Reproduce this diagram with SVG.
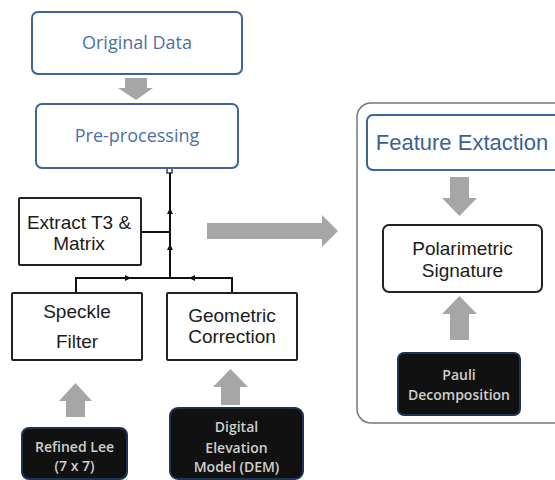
<svg xmlns="http://www.w3.org/2000/svg" width="555" height="480" viewBox="0 0 555 480">
<style>
.blue{fill:#fff;stroke:#3d649c;stroke-width:2}
.plain{fill:#fff;stroke:#222;stroke-width:2}
.dark{fill:#111;stroke:#1e3450;stroke-width:2}
.gray{fill:#a6a6a6}
.tb{font-family:"Open Sans","Liberation Sans",sans-serif;fill:#4d6fa3;text-anchor:middle;font-size:18px}
.ta{font-family:"Liberation Sans",Arial,sans-serif;fill:#1a1a1a;text-anchor:middle;font-size:19px}
.tw{font-family:"Open Sans","Liberation Sans",sans-serif;fill:#cfcfcf;text-anchor:middle;font-size:14px;font-weight:600}
.ln{stroke:#111;stroke-width:2;fill:none}
</style>
<rect width="555" height="480" fill="#fff"/>
<g id="container"><rect x="357" y="103" width="215" height="320" rx="14" fill="none" stroke="#777" stroke-width="1.5"/></g>
<g id="connectors">
<polygon class="gray" points="125,78 147,78 147,88 153,88 136,100 118,88 125,88"/>
<polygon class="gray" points="207,223 322,223 322,215 338,231 322,247 322,239 207,239"/>
<polygon class="gray" points="66,417 85,417 85,401 92,401 75.5,383 59,401 66,401"/>
<polygon class="gray" points="221,405 240,405 240,387 248,387 230.5,369 213,387 221,387"/>
<polygon class="gray" points="450,177 469,177 469,198 477,198 459.5,216 442,198 450,198"/>
<polygon class="gray" points="450,340 469,340 469,314 477,314 459.5,296 442,314 450,314"/>
<rect x="167" y="168" width="5" height="5" fill="#fff" stroke="#111" stroke-width="1.2"/>
<path class="ln" d="M170,173 V278 M141,232 H170 M76,293 V278 H232 V293"/>
<polygon points="170,208 167,214 173,214" fill="#111"/>
<polygon points="170,244 167,250 173,250" fill="#111"/>
<polygon points="131,278 125,275 125,281" fill="#111"/>
<polygon points="189,278 195,275 195,281" fill="#111"/>
</g>
<g id="original-data"><rect class="blue" x="32" y="12" width="210" height="62" rx="6"/><text class="tb" x="137" y="49">Original Data</text></g>
<g id="pre-processing"><rect class="blue" x="36" y="104" width="202" height="64" rx="6"/><text class="tb" x="137" y="142">Pre-processing</text></g>
<g id="extract"><rect class="plain" x="19" y="198" width="122" height="67" rx="1"/><text class="ta" x="79" y="229">Extract T3 &amp;</text><text class="ta" x="79" y="250">Matrix</text></g>
<g id="speckle"><rect class="plain" x="12" y="293" width="130" height="67" rx="1"/><text class="ta" x="77" y="318">Speckle</text><text class="ta" x="77" y="348">Filter</text></g>
<g id="geometric"><rect class="plain" x="167" y="293" width="130" height="67" rx="1"/><text class="ta" x="232" y="322">Geometric</text><text class="ta" x="232" y="343">Correction</text></g>
<g id="refined-lee"><rect class="dark" x="22" y="428" width="105" height="51" rx="7"/><text class="tw" x="74.5" y="452">Refined Lee</text><text class="tw" x="74.5" y="471">(7 x 7)</text></g>
<g id="dem"><rect class="dark" x="170" y="408" width="133" height="71" rx="8"/><text class="tw" x="236.5" y="432">Digital</text><text class="tw" x="236.5" y="453">Elevation</text><text class="tw" x="236.5" y="472">Model (DEM)</text></g>
<g id="feature-extraction"><rect class="blue" x="367" y="115" width="200" height="55" rx="6"/><text x="462" y="150" font-family="Liberation Sans, Arial, sans-serif" font-size="22" fill="#3d5f95" text-anchor="middle">Feature Extaction</text></g>
<g id="polarimetric"><rect class="plain" x="383" y="225" width="159" height="67" rx="6"/><text class="ta" x="462.5" y="255">Polarimetric</text><text class="ta" x="462.5" y="277">Signature</text></g>
<g id="pauli"><rect class="dark" x="398" y="353" width="122" height="62" rx="6"/><text class="tw" x="459" y="380">Pauli</text><text class="tw" x="459" y="400">Decomposition</text></g>
</svg>
